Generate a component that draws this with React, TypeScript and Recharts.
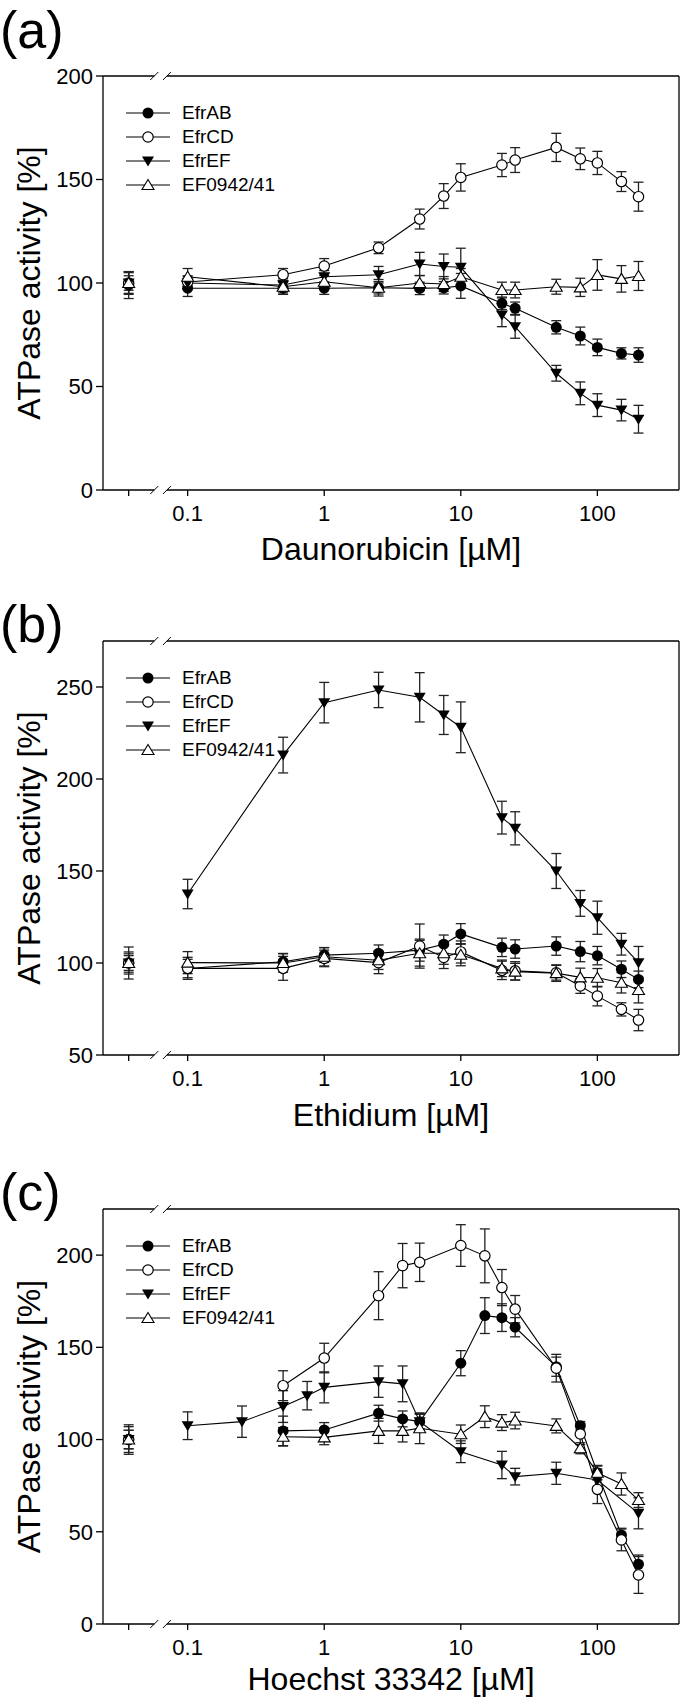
import {
  ComposedChart,
  Line,
  Scatter,
  XAxis,
  YAxis,
  ErrorBar,
  ReferenceLine,
  Legend,
} from "recharts";

const FONT = '"Liberation Sans", Arial, Helvetica, sans-serif';

// shared broken log x-axis: control point on the left, then 0.1 .. 200 µM
const X_MIN = 0.024;
const X_MAX = 396;
const X_CTRL = 0.037;
const BREAK_LO = 0.057;
const BREAK_HI = 0.0705;
const X_TICKS = [X_CTRL, 0.1, 1, 10, 100];
const SLASH_DEC = 0.0293; // ~4px in decades

const SERIES = [
  { name: "EfrAB", kind: "fillCircle" },
  { name: "EfrCD", kind: "openCircle" },
  { name: "EfrEF", kind: "downTri" },
  { name: "EF0942/41", kind: "upTri" },
];

// (a) daunorubicin
const DAU_X = [0.1, 0.5, 1, 2.5, 5, 7.5, 10, 20, 25, 50, 75, 100, 150, 200];
const DAU_AB = [97.5, 97.5, 97.5, 97.7, 97.4, 97.7, 98.6, 90.2, 87.8, 78.6, 74.4, 68.9, 66, 65.2];
const DAU_AB_ERR = [4, 3, 3, 3, 3, 3, 6, 3, 3, 3.2, 4.3, 4, 2.7, 3.5];
const DAU_CD = [100.5, 104, 108.2, 117, 130.9, 142, 151, 157, 159.4, 165.5, 160, 158, 149, 141.7];
const DAU_CD_ERR = [3, 3, 3.6, 2.8, 4.8, 6, 6.6, 5.6, 6, 6.8, 5.2, 5.6, 4.8, 7];
const DAU_EF = [100, 99, 103, 104, 109.2, 108, 107.6, 84.5, 78.9, 56.4, 46.7, 41, 38.6, 34.2];
const DAU_EF_ERR = [3, 3, 3, 4, 5.6, 6, 9.2, 5.6, 5.6, 3.8, 5.5, 5.5, 5.2, 6.7];
const DAU_TRI = [103, 98.2, 100.6, 97.7, 100, 99.5, 103, 96.6, 96.6, 98.2, 97.9, 103.9, 102, 103.4];
const DAU_TRI_ERR = [4, 3, 3, 4, 3.6, 3.6, 4, 3.8, 3.8, 3.6, 4.4, 7.4, 6.4, 7];
const DAU_CTRL = [99, 100, 100, 100];
const DAU_CTRL_ERR = [6.5, 5, 5.5, 3.5];

// (b) ethidium
const ETH_X = [0.1, 0.5, 1, 2.5, 5, 7.5, 10, 20, 25, 50, 75, 100, 150, 200];
const ETH_AB = [97, 100.7, 104.3, 105.3, 107, 110.2, 115.8, 108.5, 107.6, 109.2, 106.2, 104, 96.6, 91.1];
const ETH_AB_ERR = [5, 4.5, 4, 4.5, 6, 5, 5.6, 5, 5, 5, 5.5, 5, 4.5, 4.5];
const ETH_CD = [97.1, 97.1, 102.5, 100.2, 109.2, 103, 106, 96, 95.7, 94.7, 87.5, 82, 74.8, 69];
const ETH_CD_ERR = [6, 6.5, 4.5, 6, 12, 6, 6, 5, 5, 4, 4, 5.3, 3.6, 5.8];
const ETH_EF = [137.5, 213, 241.5, 248.4, 244.4, 234.8, 228.1, 179, 173.2, 150, 132.4, 124.6, 110.2, 100.2];
const ETH_EF_ERR = [8, 9.7, 11, 9.6, 13.4, 10.6, 13.8, 8.9, 9, 9.5, 7, 9, 5.9, 8.8];
const ETH_TRI = [100.2, 100, 103.4, 101.5, 105.3, 105.3, 104.5, 97.1, 95.3, 94.5, 92.2, 92, 89.3, 85.3];
const ETH_TRI_ERR = [6, 5, 5, 5, 7, 6, 6, 4.5, 4.5, 4.5, 5, 5, 5.6, 7];
const ETH_CTRL = [100, 100, 100, 100];
const ETH_CTRL_ERR = [5, 8.7, 4, 6];

// (c) Hoechst 33342
const HOE_X = [0.5, 1, 2.5, 3.75, 5, 10, 15, 20, 25, 50, 75, 100, 150, 200];
const HOE_EF_X = [0.1, 0.25, 0.5, 0.75, 1, 2.5, 3.75, 5, 10, 20, 25, 50, 100, 200];
const HOE_AB = [104.7, 105.2, 114.3, 111.2, 109.7, 141.4, 167.2, 166.1, 160.9, 139.5, 107.5, 82, 48.3, 32.4];
const HOE_AB_ERR = [8, 4, 4.3, 4.3, 4.5, 6.8, 9.7, 7.5, 5.2, 5.2, 2.3, 3.6, 3.6, 5];
const HOE_CD = [129.2, 144.2, 178, 194.3, 196.1, 205.2, 199.6, 182.4, 170.7, 138.7, 103, 73, 45.6, 26.6];
const HOE_CD_ERR = [8.1, 8, 13, 12, 10.4, 11.3, 14.6, 9.8, 7.4, 7.5, 5.7, 7.7, 5.9, 10];
const HOE_EF = [107.5, 109.7, 117.9, 123.8, 128.3, 131.4, 130.2, 109.7, 93.4, 86.2, 79.9, 81.7, 78.1, 60];
const HOE_EF_ERR = [7.5, 8.5, 8.6, 7.7, 8.4, 8.5, 9.7, 4, 5.9, 7.4, 4.5, 6, 6, 8.4];
const HOE_TRI = [101.5, 101.2, 104.7, 104.7, 106.1, 102.9, 112.4, 109.2, 110.3, 107.4, 95.3, 82, 75.9, 67.2];
const HOE_TRI_ERR = [5, 4, 6.8, 6, 8.3, 5, 5.9, 4.3, 4.5, 3.8, 3, 4, 6, 4];
const HOE_CTRL = [100, 100, 100, 100];
const HOE_CTRL_ERR = [7, 8, 5, 5];

type Pt = { x: number; v: number; e: number };

const toPoints = (xs: number[], vs: number[], es: number[]): Pt[] =>
  xs.map((x, i) => ({ x, v: vs[i], e: es[i] }));

const PANELS = [
  {
    tag: "(a)",
    tagY: 48,
    top: 0,
    height: 577,
    plotH: 414,
    titleOffset: 17,
    title: "Daunorubicin [µM]",
    yMin: 0,
    yMax: 200,
    yTicks: [0, 50, 100, 150, 200],
    lines: [
      toPoints(DAU_X, DAU_AB, DAU_AB_ERR),
      toPoints(DAU_X, DAU_CD, DAU_CD_ERR),
      toPoints(DAU_X, DAU_EF, DAU_EF_ERR),
      toPoints(DAU_X, DAU_TRI, DAU_TRI_ERR),
    ],
    ctrl: DAU_CTRL,
    ctrlErr: DAU_CTRL_ERR,
  },
  {
    tag: "(b)",
    tagY: 642,
    top: 565,
    height: 580,
    plotH: 414,
    titleOffset: 19,
    title: "Ethidium [µM]",
    yMin: 50,
    yMax: 275,
    yTicks: [50, 100, 150, 200, 250],
    lines: [
      toPoints(ETH_X, ETH_AB, ETH_AB_ERR),
      toPoints(ETH_X, ETH_CD, ETH_CD_ERR),
      toPoints(ETH_X, ETH_EF, ETH_EF_ERR),
      toPoints(ETH_X, ETH_TRI, ETH_TRI_ERR),
    ],
    ctrl: ETH_CTRL,
    ctrlErr: ETH_CTRL_ERR,
  },
  {
    tag: "(c)",
    tagY: 1210,
    top: 1133,
    height: 566,
    plotH: 415,
    titleOffset: 9,
    title: "Hoechst 33342 [µM]",
    yMin: 0,
    yMax: 225,
    yTicks: [0, 50, 100, 150, 200],
    lines: [
      toPoints(HOE_X, HOE_AB, HOE_AB_ERR),
      toPoints(HOE_X, HOE_CD, HOE_CD_ERR),
      toPoints(HOE_EF_X, HOE_EF, HOE_EF_ERR),
      toPoints(HOE_X, HOE_TRI, HOE_TRI_ERR),
    ],
    ctrl: HOE_CTRL,
    ctrlErr: HOE_CTRL_ERR,
  },
];

function Marker({ cx, cy, kind }: { cx?: number; cy?: number; kind: string }) {
  if (cx == null || cy == null || isNaN(cx) || isNaN(cy)) return <g />;
  if (kind === "fillCircle") return <circle cx={cx} cy={cy} r={5.5} fill="#000" />;
  if (kind === "openCircle")
    return <circle cx={cx} cy={cy} r={5.2} fill="#fff" stroke="#000" strokeWidth={1.2} />;
  if (kind === "downTri")
    return (
      <polygon
        points={`${cx - 6},${cy - 4.5} ${cx + 6},${cy - 4.5} ${cx},${cy + 5.5}`}
        fill="#000"
      />
    );
  return (
    <polygon
      points={`${cx},${cy - 5.5} ${cx + 6},${cy + 4.5} ${cx - 6},${cy + 4.5}`}
      fill="#fff"
      stroke="#000"
      strokeWidth={1.1}
    />
  );
}

function LegendBox() {
  return (
    <div style={{ fontFamily: FONT, fontSize: 19, color: "#000" }}>
      {SERIES.map((s) => (
        <div key={s.name} style={{ display: "flex", alignItems: "center", height: 24 }}>
          <svg width={56} height={24}>
            <line x1={6} x2={50} y1={12} y2={12} stroke="#000" strokeWidth={1.2} />
            <Marker cx={28} cy={12} kind={s.kind} />
          </svg>
          <span style={{ marginLeft: 6, lineHeight: "24px" }}>{s.name}</span>
        </div>
      ))}
    </div>
  );
}

function Panel({ cfg }: { cfg: (typeof PANELS)[number] }) {
  const ppu = cfg.plotH / (cfg.yMax - cfg.yMin);
  const dy = 4 / ppu;
  const k = Math.pow(10, SLASH_DEC);
  const frame = { stroke: "#000", strokeWidth: 1.3, ifOverflow: "visible" as const };

  return (
    <ComposedChart
      width={680}
      height={cfg.height}
      margin={{ top: 76, right: 1, bottom: 0, left: 0 }}
    >
      <XAxis
        dataKey="x"
        type="number"
        scale="log"
        domain={[X_MIN, X_MAX]}
        allowDataOverflow
        ticks={X_TICKS}
        interval={0}
        tickFormatter={(v: number) => (v === X_CTRL ? "" : String(v))}
        axisLine={false}
        tickLine={{ stroke: "#000", strokeWidth: 1.3 }}
        tickSize={6}
        tickMargin={9}
        height={cfg.height - 76 - cfg.plotH}
        tick={{ fill: "#000", fontSize: 22, fontFamily: FONT }}
        label={{
          value: cfg.title,
          position: "insideBottom",
          offset: cfg.titleOffset,
          style: { fill: "#000", fontSize: 32, fontFamily: FONT },
        }}
      />
      <YAxis
        type="number"
        domain={[cfg.yMin, cfg.yMax]}
        allowDataOverflow
        ticks={cfg.yTicks}
        interval={0}
        width={103}
        axisLine={{ stroke: "#000", strokeWidth: 1.3 }}
        tickLine={{ stroke: "#000", strokeWidth: 1.3 }}
        tickSize={7}
        tickMargin={3}
        tick={{ fill: "#000", fontSize: 22, fontFamily: FONT }}
        label={{
          value: "ATPase activity [%]",
          angle: -90,
          position: "insideLeft",
          offset: 29,
          style: { fill: "#000", fontSize: 32, fontFamily: FONT, textAnchor: "middle" },
        }}
      />

      {/* box with the axis break */}
      <ReferenceLine segment={[{ x: X_MIN, y: cfg.yMax }, { x: BREAK_LO, y: cfg.yMax }]} {...frame} />
      <ReferenceLine segment={[{ x: BREAK_HI, y: cfg.yMax }, { x: X_MAX, y: cfg.yMax }]} {...frame} />
      <ReferenceLine segment={[{ x: X_MIN, y: cfg.yMin }, { x: BREAK_LO, y: cfg.yMin }]} {...frame} />
      <ReferenceLine segment={[{ x: BREAK_HI, y: cfg.yMin }, { x: X_MAX, y: cfg.yMin }]} {...frame} />
      <ReferenceLine x={X_MAX} {...frame} />
      {[BREAK_LO, BREAK_HI].flatMap((bx) =>
        [cfg.yMin, cfg.yMax].map((by) => (
          <ReferenceLine
            key={`${bx}-${by}`}
            segment={[
              { x: bx / k, y: by - dy },
              { x: bx * k, y: by + dy },
            ]}
            stroke="#000"
            strokeWidth={1}
            ifOverflow="visible"
          />
        ))
      )}

      {SERIES.map((s, i) => (
        <Line
          key={s.name}
          name={s.name}
          data={cfg.lines[i]}
          dataKey="v"
          type="linear"
          stroke="#000"
          strokeWidth={1.1}
          isAnimationActive={false}
          dot={(p: any) => <Marker key={`${s.name}-${p.index}`} cx={p.cx} cy={p.cy} kind={s.kind} />}
          activeDot={false}
        >
          <ErrorBar dataKey="e" direction="y" width={5} stroke="#222" strokeWidth={1.3} />
        </Line>
      ))}

      {SERIES.map((s, i) => (
        <Scatter
          key={`ctrl-${s.name}`}
          name={`${s.name} control`}
          data={[{ x: X_CTRL, v: cfg.ctrl[i], e: cfg.ctrlErr[i] }]}
          dataKey="v"
          legendType="none"
          isAnimationActive={false}
          shape={(p: any) => <Marker cx={p.cx} cy={p.cy} kind={s.kind} />}
        >
          <ErrorBar dataKey="e" direction="y" width={5} stroke="#222" strokeWidth={1.3} />
        </Scatter>
      ))}

      <Legend
        layout="vertical"
        align="center"
        verticalAlign="middle"
        wrapperStyle={{ top: 101, left: 120, width: 220 }}
        content={() => <LegendBox />}
      />
    </ComposedChart>
  );
}

export default function App() {
  return (
    <div
      style={{
        position: "absolute",
        left: 0,
        top: 0,
        width: 680,
        height: 1699,
        background: "#fff",
        overflow: "hidden",
      }}
    >
      {PANELS.map((cfg) => (
        <div key={cfg.tag} style={{ position: "absolute", left: 0, top: cfg.top }}>
          <Panel cfg={cfg} />
        </div>
      ))}
      <svg
        width={680}
        height={1699}
        style={{ position: "absolute", left: 0, top: 0, pointerEvents: "none" }}
      >
        {PANELS.map((cfg) => (
          <text key={cfg.tag} x={0} y={cfg.tagY} fontSize={52} fontFamily={FONT} fill="#000">
            {cfg.tag}
          </text>
        ))}
      </svg>
    </div>
  );
}
